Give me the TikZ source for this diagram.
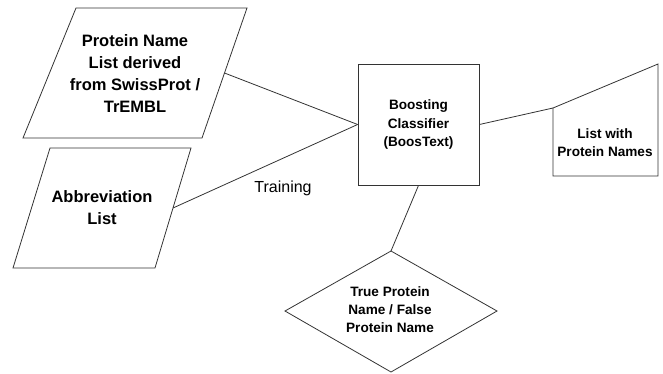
\documentclass[tikz,border=0pt]{standalone}
\usepackage{fontspec}
\setmainfont{Liberation Sans}
\begin{document}
\begin{tikzpicture}[x=1pt,y=-1pt,
  shape line/.style={draw=black!80, line width=0.8pt, line join=miter},
  conn/.style={draw=black!80, line width=0.8pt},
  bigtext/.style={align=center, inner sep=0pt, font=\fontsize{16.5}{22}\selectfont\bfseries},
  smalltext/.style={align=center, inner sep=0pt, font=\fontsize{13.6}{18.3}\selectfont\bfseries},
  labeltext/.style={inner sep=0pt, font=\fontsize{16}{19}\selectfont}]
\useasboundingbox (0,0) rectangle (663,373);
% Parallelogram 1
\draw[shape line] (76,8) -- (247,8) -- (202,138) -- (23,138) -- cycle;
\coordinate (p1r) at (224.5,73);
\node[bigtext] (p1) at (135,74) {Protein Name\\List derived\\from SwissProt /\\TrEMBL};
% Parallelogram 2
\draw[shape line] (50,148) -- (191,148) -- (155,268) -- (13,268) -- cycle;
\coordinate (p2r) at (173,208);
\node[bigtext] (p2) at (102,208) {Abbreviation\\List};
% Box
\node[shape line, minimum width=121pt, minimum height=121pt, inner sep=0pt, smalltext] (box) at (418.5,124.5) {Boosting\\Classifier\\(BoosText)};
% Right manual-input shape
\draw[shape line] (553,108) -- (658,64) -- (658,176) -- (553,176) -- cycle;
\coordinate (rl) at (553,108);
\node[smalltext] (rt) at (605,142.5) {List with\\Protein Names};
% Diamond
\draw[shape line] (391,251) -- (497,311) -- (391,372) -- (285,311) -- cycle;
\coordinate (dtop) at (391,251);
\node[smalltext] (dt) at (390,309.5) {True Protein\\Name / False\\Protein Name};
% Connectors
\draw[conn] (p1r) -- (box.west);
\draw[conn] (p2r) -- (box.west);
\draw[conn] (box.east) -- (rl);
\draw[conn] (box.south) -- (dtop);
\node[labeltext] (train) at (283,188) {Training};
\end{tikzpicture}
\end{document}
